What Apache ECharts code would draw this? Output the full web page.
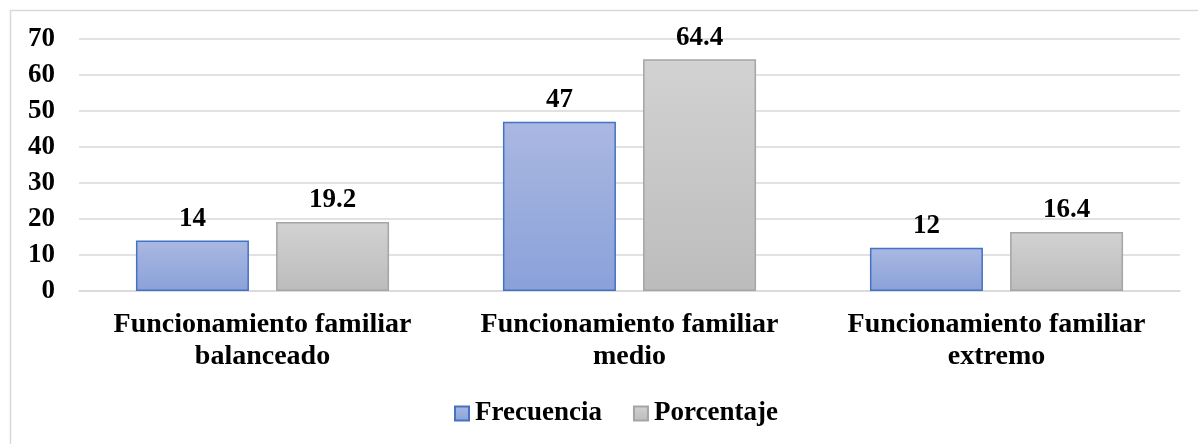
<!DOCTYPE html>
<html><head><meta charset="utf-8">
<script src="https://cdn.jsdelivr.net/npm/echarts@6/dist/echarts.min.js"></script>
<style>html,body{margin:0;padding:0;background:#fff;}#c{width:1198px;height:444px;}</style>
</head><body><div id="c"></div>
<script>
const categories = ['Funcionamiento familiar\nbalanceado', 'Funcionamiento familiar\nmedio', 'Funcionamiento familiar\nextremo'];
const frecuencia = [14, 47, 12];
const porcentaje = [19.2, 64.4, 16.4];
const seriesNames = ['Frecuencia', 'Porcentaje'];

const font = '"Liberation Serif", "Times New Roman", serif';
const chart = echarts.init(document.getElementById('c'));
const lbl = {show: true, position: 'top', distance: 8, color: '#000', fontFamily: font, fontWeight: 'bold', fontSize: 27};
chart.setOption({
  animation: false,
  graphic: [{type: 'rect', shape: {x: 10.5, y: 10.5, width: 1200, height: 450}, style: {fill: 'none', stroke: '#d9d9d9', lineWidth: 1.5}, z: -1}],
  grid: {left: 79, right: 18, top: 39, bottom: 153},
  legend: {
    top: 395, left: 449, itemWidth: 14, itemHeight: 14, itemGap: 31, icon: 'rect',
    textStyle: {fontFamily: font, fontWeight: 'bold', fontSize: 27, color: '#000', padding: [0, 0, 0, 1]},
    data: seriesNames
  },
  xAxis: {
    type: 'category', data: categories,
    axisLine: {show: true, lineStyle: {color: '#d9d9d9', width: 1.5}}, axisTick: {show: false},
    axisLabel: {fontFamily: font, fontWeight: 'bold', fontSize: 28, color: '#000', lineHeight: 32, margin: 18, interval: 0}
  },
  yAxis: {
    type: 'value', min: 0, max: 70, interval: 10,
    axisLine: {show: false}, axisTick: {show: false},
    splitLine: {lineStyle: {color: '#d9d9d9', width: 1.5}},
    axisLabel: {fontFamily: font, fontWeight: 'bold', fontSize: 27, color: '#000', margin: 24}
  },
  series: [
    {name: seriesNames[0], type: 'bar', data: frecuencia, barWidth: 113, barGap: '24%', label: lbl,
     itemStyle: {borderColor: '#4472c4', borderWidth: 1.5,
       color: new echarts.graphic.LinearGradient(0, 0, 0, 1, [{offset: 0, color: '#aab8e2'}, {offset: 1, color: '#8aa1d9'}])}},
    {name: seriesNames[1], type: 'bar', data: porcentaje, barWidth: 113, label: lbl,
     itemStyle: {borderColor: '#a5a5a5', borderWidth: 1.5,
       color: new echarts.graphic.LinearGradient(0, 0, 0, 1, [{offset: 0, color: '#d2d2d2'}, {offset: 1, color: '#bcbcbc'}])}}
  ]
});
</script></body></html>
